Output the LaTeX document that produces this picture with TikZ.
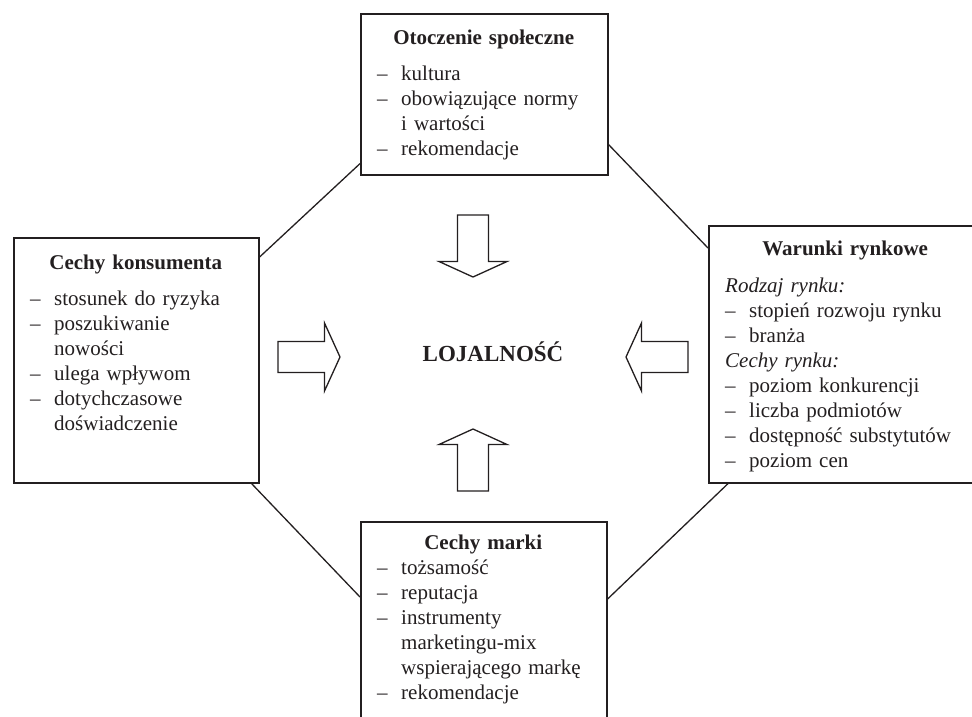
\documentclass[tikz,border=0pt]{standalone}
\usepackage{fontspec}
\setmainfont{Liberation Serif}
\definecolor{tusz}{HTML}{231F20}
% punkt listy z wiszacym wcieciem
\newcommand{\pkt}{\par\noindent\hangindent=24pt\hangafter=1\makebox[24pt][l]{--}}
\newcommand{\tytul}[1]{{\centering\bfseries\strut #1\par}}

\begin{document}
\begin{tikzpicture}[x=1pt, y=-1pt, color=tusz,
    box/.style={draw, line width=1.6pt, anchor=north west, inner sep=0pt},
    txt/.style={anchor=north west, inner sep=0pt, font=\fontsize{21}{25}\selectfont},
    linia/.style={line width=1.3pt},
    strzalka/.style={line width=1.3pt, line join=miter}]

    \useasboundingbox (0,0) rectangle (972,716);
    \clip (0,0) rectangle (972,716);

    % ramki
    \node[box, minimum width=247pt, minimum height=161pt] (otoczenie) at (360,13) {};
    \node[box, minimum width=245pt, minimum height=245pt] (konsument) at (13,237) {};
    \node[box, minimum width=274pt, minimum height=257pt] (warunki) at (708,225) {};
    \node[box, minimum width=246pt, minimum height=215pt] (marka) at (360,521) {};

    % teksty w ramkach
    \node[txt, text width=213pt] (otoczenie-t) at ([shift={(17,13.5)}]otoczenie.north west) {%
        \tytul{Otoczenie społeczne}\vspace{11pt}
        \pkt kultura
        \pkt obowiązujące normy\newline i wartości
        \pkt rekomendacje\par};
    \node[txt, text width=211pt] (konsument-t) at ([shift={(17,14.5)}]konsument.north west) {%
        \tytul{Cechy konsumenta}\vspace{11pt}
        \pkt stosunek do ryzyka
        \pkt poszukiwanie\newline nowości
        \pkt ulega wpływom
        \pkt dotychczasowe\newline doświadczenie\par};
    \node[txt, text width=240pt] (warunki-t) at ([shift={(17,12.5)}]warunki.north west) {%
        \tytul{Warunki rynkowe}\vspace{12pt}
        \par\noindent\textit{Rodzaj rynku:}
        \pkt stopień rozwoju rynku
        \pkt branża
        \par\noindent\textit{Cechy rynku:}
        \pkt poziom konkurencji
        \pkt liczba podmiotów
        \pkt dostępność substytutów
        \pkt poziom cen\par};
    \node[txt, text width=212pt] (marka-t) at ([shift={(17,10.5)}]marka.north west) {%
        \tytul{Cechy marki}
        \pkt tożsamość
        \pkt reputacja
        \pkt instrumenty\newline marketingu-mix\newline wspierającego markę
        \pkt rekomendacje\par};

    % osmiokat
    \draw[linia] ([yshift=-20pt]konsument.north east) -- ([yshift=12pt]otoczenie.south west);
    \draw[linia] ([yshift=31pt]otoczenie.south east) -- ([yshift=-23pt]warunki.north west);
    \draw[linia] ([xshift=-8pt]konsument.south east) -- ([yshift=-76pt]marka.north west);
    \draw[linia] ([xshift=20pt]warunki.south west) -- ([yshift=-78pt]marka.north east);

    % srodek
    \node[font=\fontsize{23}{27}\selectfont\bfseries] (lojalnosc) at (493,352) {LOJALNOŚĆ};

    % strzalki
    \foreach \x/\y/\kat in {473/277/-90, 473/429/90, 340/357/0, 626/357/180}{
        \begin{scope}[shift={(\x,\y)}, rotate=\kat]
            \draw[strzalka]
                (-62,-15.5) -- (-15.5,-15.5) -- (-15.5,-34) -- (0,0)
                -- (-15.5,34) -- (-15.5,15.5) -- (-62,15.5) -- cycle;
        \end{scope}
    }
\end{tikzpicture}
\end{document}
